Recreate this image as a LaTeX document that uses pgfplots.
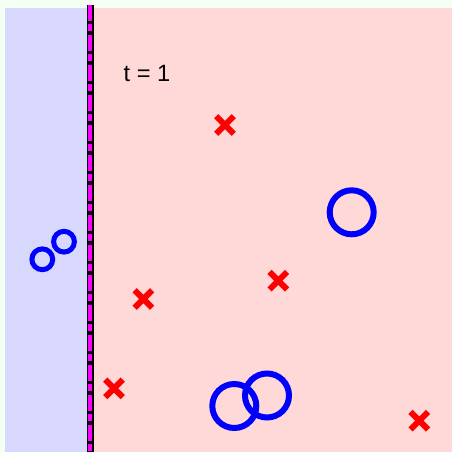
\documentclass[border=0pt]{standalone}
\usepackage{pgfplots}
\pgfplotsset{compat=1.18}
\usepackage{fontspec}
\setmainfont{Liberation Sans}
\definecolor{bgout}{HTML}{F2FFF2}
\definecolor{regblue}{HTML}{D8D8FF}
\definecolor{regred}{HTML}{FFD8D8}
\definecolor{mag}{HTML}{FF00FF}
\definecolor{pblue}{HTML}{0000FF}
\definecolor{pred}{HTML}{FF0000}
\begin{document}
\begin{tikzpicture}
\fill[bgout] (0,0) rectangle (226pt,226pt);
\begin{axis}[
  at={(2.5pt,0pt)}, anchor=south west,
  scale only axis, width=223.5pt, height=222pt,
  xmin=5, xmax=452, ymin=0, ymax=444,
  hide axis, clip=false,
]
\addplot[fill=regblue, draw=none] coordinates {(5,0) (90,0) (90,444) (5,444)} -- cycle;
\addplot[fill=regred, draw=none] coordinates {(90,0) (452,0) (452,444) (90,444)} -- cycle;
\addplot[black, line width=3.5pt] coordinates {(90,0) (90,447)};
\addplot[mag, line width=2.1pt, dash pattern=on 8pt off 1.5pt on 3.5pt off 2pt] coordinates {(90,447) (90,0)};
% red crosses
\addplot[only marks, mark=x, mark size=6.2pt, pred, line width=3pt] coordinates {
(225,327) (278.3,171.3) (143.3,153) (114,63.7) (419.3,31.3)};
% small blue circles
\addplot[only marks, mark=o, mark size=5.2pt, pblue, line width=2.5pt] coordinates {
(42.3,192.7) (64,210.3)};
% big blue circles
\addplot[only marks, mark=o, mark size=11pt, pblue, line width=3pt] coordinates {
(351.7,239.7) (234.3,46) (267,56.5)};
\node[anchor=center, font=\fontsize{11.8}{14}\selectfont] at (axis cs:147,379) {t = 1};
\end{axis}
\pgfresetboundingbox
\useasboundingbox (0,0) rectangle (226pt,226pt);
\end{tikzpicture}
\end{document}
